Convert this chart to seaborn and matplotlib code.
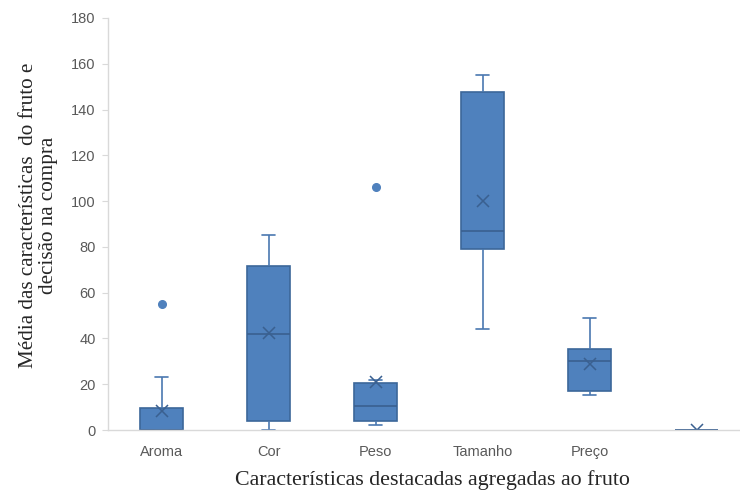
import matplotlib
matplotlib.use('Agg')
import matplotlib.pyplot as plt
import pandas as pd
import seaborn as sns

# Categories (the sixth column has no label in the original chart)
categories = ['Aroma', 'Cor', 'Peso', 'Tamanho', 'Preço', ' ']

# Observed values per characteristic (read so that quartiles/mean match the picture)
aroma = [0, 0, 0, 0, 0, 0, 0, 2, 5, 9.5, 16, 23, 55]
cor = [0, 3, 4, 35, 42, 65, 71.5, 77, 85]
peso = [2, 3, 4, 7, 10.5, 14, 20.5, 22, 106]
tamanho = [44, 60, 79, 82, 87, 95, 147.5, 150.5, 155]
preco = [15.3, 16, 17, 25, 30, 33, 35.5, 38.4, 49]
vazio = [0, 0, 0, 0, 0]

y_ticks = [0, 20, 40, 60, 80, 100, 120, 140, 160, 180]

series = [aroma, cor, peso, tamanho, preco, vazio]
df = pd.DataFrame({
    'categoria': [c for c, vals in zip(categories, series) for _ in vals],
    'valor': [v for vals in series for v in vals],
})

sns.set_style('white')
plt.rcParams['font.family'] = ['Liberation Sans', 'DejaVu Sans']

fill = '#4F81BD'
edge = '#3C679A'

fig = plt.figure(figsize=(7.4, 4.91), dpi=100)
ax = fig.add_axes([108 / 740, 61 / 491, 642 / 740, 412 / 491])

sns.boxplot(
    data=df, x='categoria', y='valor', order=categories, ax=ax,
    color=fill, saturation=1, width=0.40, linecolor=edge, linewidth=1.2,
    showmeans=True, capwidths=0.12,
    meanprops=dict(marker='x', markeredgecolor='#3A6090', markersize=9,
                   markeredgewidth=1.1),
    flierprops=dict(marker='o', markerfacecolor=fill, markeredgecolor=fill,
                    markersize=5.5),
    whiskerprops=dict(color='#4A78B0'),
    capprops=dict(color='#4A78B0'),
    medianprops=dict(color='#3A6090', linewidth=1.2),
)

ax.set_xlim(-0.5, len(categories) - 0.5)
ax.set_ylim(0, 180)
ax.set_yticks(y_ticks)

for side in ['top', 'right']:
    ax.spines[side].set_visible(False)
for side in ['left', 'bottom']:
    ax.spines[side].set_color('#D9D9D9')
    ax.spines[side].set_linewidth(1.0)

ax.tick_params(axis='y', length=4, color='#D9D9D9', labelcolor='#595959',
               labelsize=10.5, pad=5, left=True)
ax.tick_params(axis='x', length=0, labelcolor='#595959', labelsize=10.5, pad=11)

ax.set_xlabel('Características destacadas agregadas ao fruto',
              family='Liberation Serif', fontsize=15.8)
ax.xaxis.set_label_coords(0.505, -0.097)
ax.set_ylabel('Média das características  do fruto e\ndecisão na compra',
              family='Liberation Serif', fontsize=15.2, linespacing=1.05)
ax.yaxis.set_label_coords(-0.078, 0.52)

fig.savefig('out.png', dpi=100)
